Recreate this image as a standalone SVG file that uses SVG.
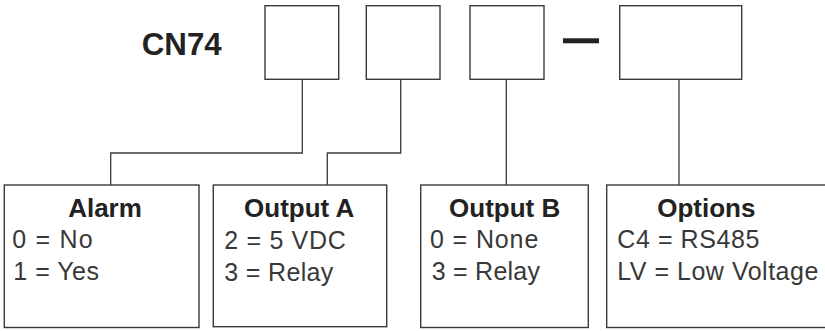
<svg xmlns="http://www.w3.org/2000/svg" width="825" height="331" viewBox="0 0 825 331">
<style>
.box{fill:#fff;stroke:#3a3a3a;stroke-width:1.4}
.con{fill:none;stroke:#3a3a3a;stroke-width:1.3}
.title{font-family:"Liberation Sans",Arial,sans-serif;font-weight:bold;font-size:26px;fill:#222;text-anchor:middle}
.body{font-family:"Liberation Sans",Arial,sans-serif;font-size:25px;fill:#383838}
.code{font-family:"Liberation Sans",Arial,sans-serif;font-weight:bold;font-size:31px;fill:#222}
</style>
<rect width="825" height="331" fill="#fff"/>
<g id="model">
<text class="code" x="141.7" y="55" textLength="80" lengthAdjust="spacingAndGlyphs">CN74</text>
</g>
<g id="slot1"><rect class="box" x="265" y="5.7" width="73.7" height="73.6"/></g>
<g id="slot2"><rect class="box" x="366.3" y="5.7" width="73.7" height="73.6"/></g>
<g id="slot3"><rect class="box" x="470" y="5.7" width="74" height="73.6"/></g>
<g id="dash"><rect x="563" y="38.3" width="36" height="5" fill="#222"/></g>
<g id="slot4"><rect class="box" x="619.7" y="5.7" width="122" height="73.6"/></g>
<g id="connectors">
<path class="con" d="M302.3 79.3 V153 H110.7 V185"/>
<path class="con" d="M400.7 79.3 V153 H327.3 V185"/>
<path class="con" d="M506.3 79.3 V185"/>
<path class="con" d="M679 79.3 V185"/>
</g>
<g id="alarm">
<rect class="box" x="4.3" y="185" width="194.7" height="142.5"/>
<text class="title" x="105" y="216.5">Alarm</text>
<text class="body" x="12.3" y="248" textLength="80.4" lengthAdjust="spacing">0 = No</text>
<text class="body" x="13.3" y="280" textLength="85.7" lengthAdjust="spacing">1 = Yes</text>
</g>
<g id="outputA">
<rect class="box" x="213.3" y="185" width="173.4" height="141.7"/>
<text class="title" x="299.2" y="217">Output A</text>
<text class="body" x="224.3" y="248.5" textLength="121.4" lengthAdjust="spacing">2 = 5 VDC</text>
<text class="body" x="224.3" y="281" textLength="109" lengthAdjust="spacing">3 = Relay</text>
</g>
<g id="outputB">
<rect class="box" x="420.7" y="185" width="167.6" height="142.5"/>
<text class="title" x="504.7" y="216.5">Output B</text>
<text class="body" x="430" y="248" textLength="108.3" lengthAdjust="spacing">0 = None</text>
<text class="body" x="431.7" y="280" textLength="108.3" lengthAdjust="spacing">3 = Relay</text>
</g>
<g id="options">
<rect class="box" x="606.7" y="185" width="225" height="142.5"/>
<text class="title" x="706.3" y="216.5">Options</text>
<text class="body" x="617.3" y="248" textLength="142" lengthAdjust="spacing">C4 = RS485</text>
<text class="body" x="617.3" y="280" textLength="201" lengthAdjust="spacing">LV = Low Voltage</text>
</g>
</svg>
